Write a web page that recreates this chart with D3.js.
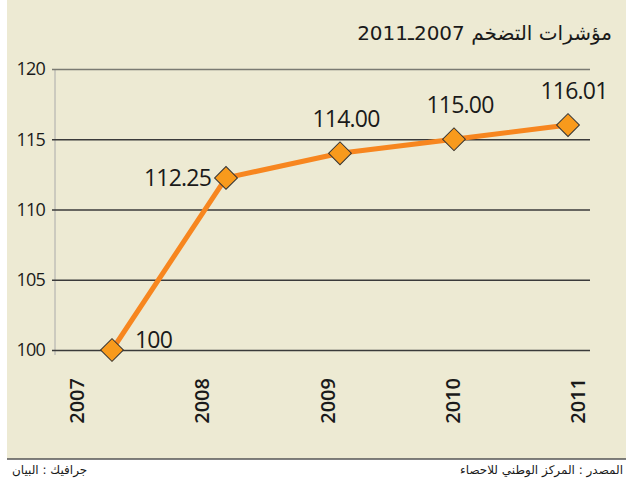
<!DOCTYPE html>
<html>
<head>
<meta charset="utf-8">
<script src="https://cdn.jsdelivr.net/npm/d3@7"></script>
<style>
  html, body { margin: 0; padding: 0; background: #fff; }
  svg { display: block; }
</style>
</head>
<body>
<div id="chart"></div>
<script>
const years = ["2007", "2008", "2009", "2010", "2011"];
const values = [100, 112.25, 114, 115, 116.01];
const valueLabels = ["100", "112.25", "114.00", "115.00", "116.01"];
const yTicks = [100, 105, 110, 115, 120];

const titleText = "مؤشرات التضخم 2007ـ2011";
const sourceText = "المصدر : المركز الوطني للاحصاء";
const creditText = "جرافيك : البيان";

function PlotChart(parent_element) {
  const width = 640, height = 482;
  const panel = {left: 7, right: 626, top: 0, bottom: 459};

  const svg = d3.select(`#${parent_element}`)
    .append("svg")
    .attr("width", width)
    .attr("height", height);

  // beige panel + bottom rule
  svg.append("rect")
    .attr("x", panel.left).attr("y", panel.top)
    .attr("width", panel.right - panel.left)
    .attr("height", panel.bottom - panel.top)
    .attr("fill", "#EDEAD3");

  svg.append("line")
    .attr("x1", panel.left).attr("x2", panel.right)
    .attr("y1", panel.bottom).attr("y2", panel.bottom)
    .attr("stroke", "#555").attr("stroke-width", 1.5);

  // title
  svg.append("text")
    .attr("x", 612).attr("y", 40)
    .attr("direction", "rtl")
    .attr("text-anchor", "start")
    .attr("font-family", "DejaVu Sans, sans-serif")
    .attr("font-size", 20)
    .attr("fill", "#1a1a1a")
    .text(titleText);

  const y = d3.scaleLinear().domain([100, 120]).range([350, 69]);
  const xLabel = d3.scalePoint().domain(years).range([77, 578]);
  const xMark = d3.scalePoint().domain(years).range([112, 568]);

  // vertical axis line
  svg.append("line")
    .attr("x1", 55).attr("x2", 55)
    .attr("y1", y(120)).attr("y2", y(100) + 5)
    .attr("stroke", "#aaa").attr("stroke-width", 1);

  // gridlines with left ticks
  const yAxis = d3.axisLeft(y)
    .tickValues(yTicks)
    .tickSize(-(590 - 52))
    .tickPadding(7)
    .tickFormat(d3.format("d"));

  const gy = svg.append("g")
    .attr("transform", "translate(52,0)")
    .call(yAxis);
  gy.select(".domain").remove();
  gy.selectAll(".tick line")
    .attr("stroke", (d) => d === 120 ? "#7a7a72" : "#3a3a3a")
    .attr("stroke-width", 1.5);
  gy.selectAll(".tick text")
    .attr("font-family", "Open Sans, sans-serif")
    .attr("font-size", 18)
    .attr("font-weight", 500)
    .attr("letter-spacing", -0.8)
    .attr("fill", "#1a1a1a");

  // year labels, rotated
  svg.append("g")
    .selectAll("text")
    .data(years)
    .join("text")
    .attr("transform", (d) => `translate(${xLabel(d) + 7},378) rotate(-90)`)
    .attr("text-anchor", "end")
    .attr("font-family", "Open Sans, sans-serif")
    .attr("font-size", 20)
    .attr("font-weight", 600)
    .attr("fill", "#1a1a1a")
    .text((d) => d);

  // line
  const line = d3.line()
    .x((d, i) => xMark(years[i]))
    .y((d) => y(d));

  svg.append("path")
    .datum(values)
    .attr("fill", "none")
    .attr("stroke", "#F7861F")
    .attr("stroke-width", 5)
    .attr("stroke-linejoin", "round")
    .attr("d", line);

  // diamond markers
  const diamond = d3.symbol().type(d3.symbolSquare).size(260);
  svg.append("g")
    .selectAll("path")
    .data(values)
    .join("path")
    .attr("d", diamond)
    .attr("transform", (d, i) => `translate(${xMark(years[i])},${y(d)}) rotate(45)`)
    .attr("fill", "#F89A1C")
    .attr("stroke", "#333")
    .attr("stroke-width", 1);

  // value labels
  svg.append("g")
    .selectAll("text")
    .data(values)
    .join("text")
    .attr("x", (d, i) => {
      const cx = xMark(years[i]);
      if (i === 0) return cx + 23;
      if (i === 1) return cx - 15;
      return cx + 6;
    })
    .attr("y", (d, i) => {
      const cy = y(d);
      if (i === 0) return cy - 2;
      if (i === 1) return cy + 8;
      return cy - 26;
    })
    .attr("text-anchor", (d, i) => i === 0 ? "start" : (i === 1 ? "end" : "middle"))
    .attr("font-family", "Open Sans, sans-serif")
    .attr("font-size", 23)
    .attr("font-weight", 500)
    .attr("letter-spacing", -0.8)
    .attr("fill", "#1a1a1a")
    .text((d, i) => valueLabels[i]);

  // footer
  svg.append("text")
    .attr("x", 623).attr("y", 474)
    .attr("direction", "rtl")
    .attr("text-anchor", "start")
    .attr("font-family", "DejaVu Sans, sans-serif")
    .attr("font-size", 12)
    .attr("fill", "#1a1a1a")
    .text(sourceText);

  svg.append("text")
    .attr("x", 12).attr("y", 474)
    .attr("direction", "rtl")
    .attr("text-anchor", "end")
    .attr("font-family", "DejaVu Sans, sans-serif")
    .attr("font-size", 12)
    .attr("fill", "#1a1a1a")
    .text(creditText);
}

document.addEventListener('DOMContentLoaded', () => {
  PlotChart("chart");
});
</script>
</body>
</html>
